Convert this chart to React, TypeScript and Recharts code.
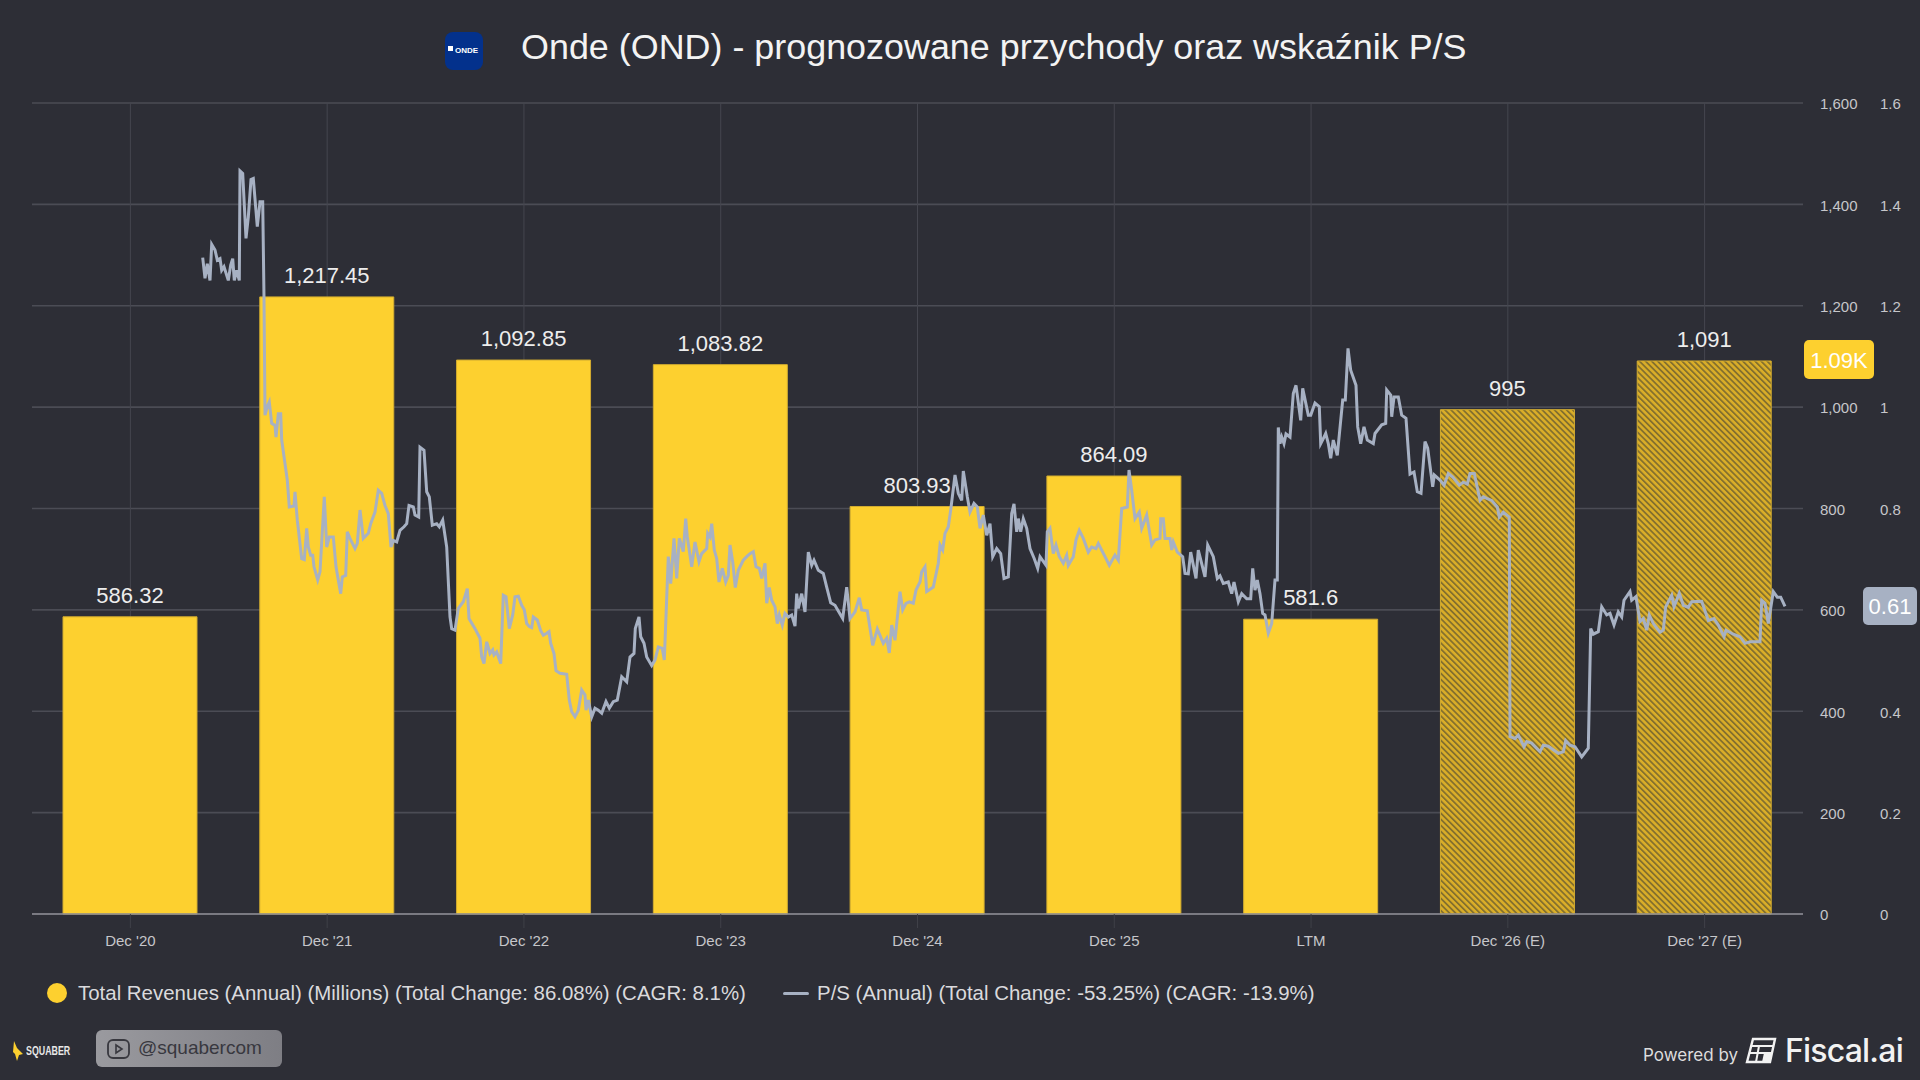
import { Bar, CartesianGrid, Cell, ComposedChart, LabelList, Line, XAxis, YAxis } from 'recharts';

const categories = ["Dec '20", "Dec '21", "Dec '22", "Dec '23", "Dec '24", "Dec '25", 'LTM', "Dec '26 (E)", "Dec '27 (E)"];
const revenues = [586.32, 1217.45, 1092.85, 1083.82, 803.93, 864.09, 581.6, 995, 1091];
const estimated = [false, false, false, false, false, false, false, true, true];
const revenueTicks = [0, 200, 400, 600, 800, 1000, 1200, 1400, 1600];
const psTicks = [0, 0.2, 0.4, 0.6, 0.8, 1, 1.2, 1.4, 1.6];

// P/S line: position along the time axis and ratio
const psDays = [
  170.7, 173, 175.3, 178, 179.7, 183, 185.3, 188, 189.7, 192, 196.3, 198.7, 200.7, 202.3, 204.7, 207.3, 208, 210.7, 214, 216.3,
  219, 221.3, 225.3, 228, 230.7, 232, 233, 235.3, 237.3, 239.7, 243, 244, 246.3, 248.7, 249.7, 255.3, 257.3, 262, 263, 265.3,
  269.7, 272.3, 274.7, 276.3, 278.7, 280.7, 282, 285.7, 288, 292.3, 294.7, 297.3, 301.3, 304, 308.7, 310.3, 313.7, 315.3, 318, 323,
  325.3, 328, 331.3, 336.3, 338.7, 343, 346.3, 349.7, 353, 356.3, 359, 361.3, 364.7, 368, 372, 374.7, 377, 381.3, 383, 386.7,
  388, 392, 394.7, 397.3, 400.3, 404.7, 407.3, 410.7, 414.7, 418, 419.7, 423, 426.3, 431.3, 435.3, 437, 443,
  448, 449.7, 452, 454.7, 458, 460.7, 462, 464.7, 468.7, 471.3, 474, 477.3, 480.7, 483, 486.3, 489.7, 492.3, 494.7, 497.3, 499.7,
  501.3, 505.3, 508.7, 511.3, 514.7, 517, 518.7, 522, 524, 528, 534.7, 537.3, 539.7, 543, 546.3, 549.7, 553, 554, 556.3, 559.7,
  563, 566.3, 569.7, 574, 577.3, 581.3, 585.3, 589.7, 594.7, 598, 602, 603.3, 607, 608.7, 612, 614.7, 619.7, 623, 626.3, 630.3,
  632.3, 636.3, 638.7, 642, 644.7, 647.3, 651.3, 653.7, 655.3, 659.7, 663, 667, 669.7, 674.7, 675.7, 678, 679.7, 682.3, 684.7, 687,
  690.3, 693.7, 696.3, 698, 700.7, 703.3, 706.3, 711.3, 714.7, 718, 721.3, 724, 727.3, 729.7, 733, 734.7, 737.3, 739.7, 743, 745.3,
  747.3, 750.3, 753, 756.3, 759.7, 763, 764.7,
  766.3, 769.7, 773, 776.3, 779.7, 782, 786.3, 791.3, 794.7, 798.7, 803, 806.3, 810.7, 814.7, 818, 823, 827.3, 829.7, 835.3, 840.7,
  845.3, 851.3, 854.7, 857.3, 859.7, 863, 868, 870.7, 874, 877.3, 881.3, 884, 888, 889.7, 893, 894.7, 901.3, 906.3, 908, 910.7,
  913, 916.3, 918.7, 923, 926.3, 929.7, 931.3, 935.3, 938, 942, 945.3, 948, 951.3, 954.7, 958, 960.7, 964.7, 968.7, 972, 976.3,
  979.7, 982, 984.7, 986.3, 988.7, 991.3, 994.7, 998, 1002.3, 1005.7, 1008, 1014, 1015.3, 1018, 1021.3, 1024, 1027.3, 1031.3, 1034.7, 1036.3,
  1041.3, 1044, 1047.3, 1051.3, 1056.3, 1059.7, 1064, 1066.3, 1073, 1077.3,
  1083, 1086.3, 1089.7, 1095.3, 1097, 1099.7, 1103, 1107.3, 1109.7, 1114.7, 1119.7, 1123, 1128, 1128.7, 1131.3, 1133, 1138, 1139.7, 1141.3, 1145.3,
  1150.7, 1153, 1156.3, 1158.7, 1164, 1166.3, 1173, 1175.7, 1181.3, 1185.3, 1188, 1191.3, 1196.3, 1199.7, 1202, 1206.3, 1209.7, 1214.7, 1218.7, 1220.7,
  1223, 1225.3, 1228, 1230.7, 1233, 1236.3, 1239.7, 1243, 1245.3,
  1246.3, 1248, 1249.7, 1252, 1254, 1258, 1261.3, 1264, 1268.7, 1270.7, 1276.3, 1278.7, 1283, 1287.3, 1288.7, 1291.3, 1293.7, 1296.3, 1298.7, 1301.3,
  1305.3, 1310.7, 1313.3, 1316, 1318.7, 1324, 1325.7, 1328.7, 1332, 1335.3, 1341.3, 1343, 1349.7, 1353.7, 1354.7, 1358.7, 1359.7, 1362, 1366.3, 1369.7,
  1374, 1378, 1382, 1385.3, 1389, 1393, 1395.7, 1400.7, 1402.3, 1408, 1412, 1416.3, 1420.7, 1427.3, 1431.3, 1435.3, 1438, 1442.3, 1448, 1451.3,
  1454.7, 1459.7, 1465.3, 1467.3, 1471.3, 1477.3, 1478, 1483, 1486.3, 1492, 1494.7, 1499.7, 1508, 1511.3, 1516.3, 1526.3, 1531.3, 1533.7, 1538, 1543,
  1549.7, 1556.3, 1558.7, 1561.3, 1566.3, 1569.7, 1574.7, 1578, 1582, 1586.3, 1589.7, 1592, 1598, 1599.7, 1604, 1608, 1611.3, 1614.7, 1617.3, 1621.3,
  1628, 1631.3, 1633.7, 1639.7, 1642, 1647.3, 1651.3, 1656.3, 1659.7, 1669.7, 1676.3, 1682, 1686.3, 1692, 1694, 1701.3, 1708, 1713, 1718, 1728,
  1729.7, 1733, 1736.3, 1741.3, 1745.3, 1748.7, 1753,
];
const psValues = [
  1.295, 1.254, 1.283, 1.25, 1.321, 1.31, 1.29, 1.293, 1.27, 1.277, 1.25, 1.28, 1.293, 1.25, 1.27, 1.25, 1.466, 1.461, 1.333, 1.375,
  1.449, 1.451, 1.356, 1.405, 1.405, 1.217, 0.984, 1.001, 1.01, 0.968, 0.964, 0.941, 0.987, 0.987, 0.935, 0.856, 0.803, 0.805, 0.833, 0.777,
  0.701, 0.699, 0.761, 0.724, 0.708, 0.708, 0.685, 0.659, 0.675, 0.823, 0.724, 0.744, 0.744, 0.685, 0.632, 0.665, 0.668, 0.754, 0.741, 0.721,
  0.731, 0.797, 0.741, 0.751, 0.77, 0.793, 0.836, 0.83, 0.806, 0.79, 0.724, 0.737, 0.734, 0.757, 0.764, 0.77, 0.806, 0.803, 0.787, 0.783,
  0.921, 0.915, 0.833, 0.823, 0.767, 0.77, 0.764, 0.777, 0.724, 0.586, 0.563, 0.56, 0.603, 0.616, 0.642, 0.583, 0.563,
  0.544, 0.507, 0.494, 0.537, 0.514, 0.521, 0.511, 0.517, 0.494, 0.629, 0.626, 0.563, 0.59, 0.626, 0.627, 0.609, 0.6, 0.573, 0.567, 0.565,
  0.586, 0.58, 0.559, 0.55, 0.554, 0.557, 0.534, 0.514, 0.48, 0.475, 0.473, 0.422, 0.399, 0.389, 0.402, 0.442, 0.432, 0.402, 0.422, 0.389,
  0.406, 0.402, 0.396, 0.419, 0.406, 0.419, 0.422, 0.468, 0.458, 0.507, 0.514, 0.563, 0.586, 0.547, 0.534, 0.507, 0.49, 0.501, 0.527, 0.524,
  0.501, 0.705, 0.652, 0.741, 0.662, 0.741, 0.715, 0.78, 0.744, 0.685, 0.734, 0.695, 0.711, 0.721, 0.751, 0.744, 0.77, 0.718, 0.701, 0.655,
  0.682, 0.655, 0.668, 0.728, 0.695, 0.644, 0.678, 0.698, 0.705, 0.711, 0.715, 0.685, 0.682, 0.662, 0.692, 0.613, 0.644, 0.619, 0.606, 0.573,
  0.59, 0.57, 0.593, 0.586, 0.59, 0.568, 0.632,
  0.603, 0.632, 0.596, 0.714, 0.688, 0.698, 0.678, 0.672, 0.645, 0.614, 0.609, 0.598, 0.583, 0.645, 0.583, 0.596, 0.624, 0.6, 0.598, 0.53,
  0.562, 0.534, 0.544, 0.515, 0.57, 0.54, 0.636, 0.6, 0.613, 0.616, 0.613, 0.639, 0.655, 0.675, 0.685, 0.636, 0.645, 0.692, 0.728, 0.718,
  0.751, 0.764, 0.797, 0.866, 0.83, 0.816, 0.874, 0.823, 0.793, 0.81, 0.803, 0.761, 0.787, 0.747, 0.77, 0.705, 0.721, 0.711, 0.662, 0.665,
  0.79, 0.809, 0.754, 0.78, 0.754, 0.78, 0.761, 0.721, 0.701, 0.682, 0.705, 0.688, 0.754, 0.761, 0.711, 0.728, 0.705, 0.692, 0.708, 0.688,
  0.705, 0.738, 0.757, 0.741, 0.714, 0.724, 0.721, 0.731, 0.705, 0.688,
  0.708, 0.698, 0.8, 0.803, 0.876, 0.836, 0.78, 0.793, 0.761, 0.787, 0.728, 0.738, 0.741, 0.78, 0.78, 0.741, 0.741, 0.718, 0.734, 0.714,
  0.705, 0.672, 0.671, 0.714, 0.662, 0.718, 0.665, 0.728, 0.705, 0.662, 0.667, 0.652, 0.655, 0.632, 0.655, 0.616, 0.632, 0.622, 0.622, 0.682,
  0.639, 0.659, 0.632, 0.593, 0.59, 0.554, 0.573, 0.659, 0.659,
  0.96, 0.928, 0.941, 0.928, 0.947, 0.941, 1.027, 1.043, 0.974, 1.037, 0.984, 0.984, 1.008, 1.001, 0.928, 0.938, 0.948, 0.928, 0.899, 0.935,
  0.905, 1.014, 1.014, 1.116, 1.073, 1.043, 0.961, 0.928, 0.961, 0.935, 0.928, 0.948, 0.965, 0.968, 1.034, 1.024, 0.981, 1.02, 1.02, 0.984,
  0.978, 0.868, 0.872, 0.833, 0.83, 0.932, 0.919, 0.843, 0.866, 0.856, 0.846, 0.869, 0.862, 0.846, 0.852, 0.848, 0.869, 0.869, 0.816, 0.823,
  0.82, 0.816, 0.803, 0.783, 0.793, 0.783, 0.35, 0.346, 0.353, 0.33, 0.34, 0.337, 0.32, 0.333, 0.331, 0.317, 0.32, 0.342, 0.333, 0.33,
  0.31, 0.327, 0.563, 0.552, 0.557, 0.606, 0.59, 0.593, 0.57, 0.596, 0.586, 0.619, 0.636, 0.619, 0.626, 0.577, 0.583, 0.56, 0.59, 0.573,
  0.556, 0.56, 0.606, 0.629, 0.606, 0.633, 0.609, 0.605, 0.616, 0.617, 0.579, 0.583, 0.57, 0.547, 0.56, 0.552, 0.547, 0.534, 0.537, 0.537,
  0.619, 0.613, 0.573, 0.636, 0.625, 0.625, 0.607,
];

const revenueLegend = 'Total Revenues (Annual) (Millions) (Total Change: 86.08%) (CAGR: 8.1%)';
const psLegend = 'P/S (Annual) (Total Change: -53.25%) (CAGR: -13.9%)';

const barData = categories.map((name, i) => ({ name, revenue: revenues[i], estimated: estimated[i] }));
const psData = psDays.map((day, i) => ({ day, ps: psValues[i] }));

const BG = '#2D2E36';
const YELLOW = '#FDD02F';
const SLATE = '#A7B1C3';
const SANS = '"Liberation Sans", Arial, sans-serif';

const abs = (left: number, top: number, extra: any = {}) => ({ position: 'absolute' as const, left, top, whiteSpace: 'nowrap' as const, ...extra });

export default function App() {
  return (
    <div style={{ position: 'absolute', left: 0, top: 0, width: 1920, height: 1080, background: BG, fontFamily: SANS, overflow: 'hidden' }}>
      <ComposedChart
        width={1920}
        height={1080}
        data={barData}
        margin={{ top: 103, right: 0, bottom: 126, left: 32 }}
        style={{ position: 'absolute', left: 0, top: 0 }}
      >
        <defs>
          <pattern id="hatch" width="4.3" height="4.3" patternUnits="userSpaceOnUse" patternTransform="rotate(-45)">
            <rect width="4.3" height="4.3" fill="#DAAE28" />
            <rect width="1.8" height="4.3" fill="#84702E" />
          </pattern>
        </defs>
        <CartesianGrid xAxisId="cat" yAxisId="amount" syncWithTicks vertical={false} stroke="#4B4C55" strokeWidth={1.6} />
        <CartesianGrid xAxisId="cat" yAxisId="amount" syncWithTicks horizontal={false} stroke="#45464F" strokeWidth={1} />
        <XAxis
          xAxisId="cat"
          dataKey="name"
          height={40}
          interval={0}
          axisLine={{ stroke: '#8C8D94', strokeWidth: 1.5 }}
          tickLine={{ stroke: '#3F4048' }}
          tickSize={14}
          tickMargin={7}
          tick={{ fill: '#C6C6CA', fontSize: 15, fontFamily: SANS }}
        />
        <XAxis xAxisId="time" type="number" dataKey="day" domain={[0, 1771]} hide />
        <YAxis
          yAxisId="amount"
          orientation="right"
          width={60}
          domain={[0, 1600]}
          ticks={revenueTicks}
          interval={0}
          axisLine={false}
          tickLine={false}
          tickSize={0}
          tickMargin={17}
          tickFormatter={(v: number) => v.toLocaleString('en-US')}
          tick={{ fill: '#C6C6CA', fontSize: 15, fontFamily: SANS, textAnchor: 'start', dy: 1 }}
        />
        <YAxis
          yAxisId="ps"
          orientation="right"
          width={57}
          domain={[0, 1.6]}
          ticks={psTicks}
          interval={0}
          axisLine={false}
          tickLine={false}
          tickSize={0}
          tickMargin={17}
          tick={{ fill: '#C6C6CA', fontSize: 15, fontFamily: SANS, textAnchor: 'start', dy: 1 }}
        />
        <Bar xAxisId="cat" yAxisId="amount" dataKey="revenue" barSize={134} stroke="#D2AC30" strokeWidth={1} isAnimationActive={false}>
          {barData.map((d) => (
            <Cell key={d.name} fill={d.estimated ? 'url(#hatch)' : YELLOW} />
          ))}
          <LabelList
            dataKey="revenue"
            position="top"
            offset={14}
            fill="#EDEDED"
            fontSize={22}
            fontFamily={SANS}
            formatter={(v: number) => v.toLocaleString('en-US', { maximumFractionDigits: 2 })}
          />
        </Bar>
        <Line
          xAxisId="time"
          yAxisId="ps"
          data={psData}
          dataKey="ps"
          type="linear"
          stroke={SLATE}
          strokeWidth={3}
          dot={false}
          activeDot={false}
          isAnimationActive={false}
        />
      </ComposedChart>

      {/* title */}
      <div style={abs(445, 32, { width: 38, height: 38, borderRadius: 8, background: '#03318C' })} />
      <div style={abs(448, 46, { width: 5, height: 5, background: '#fff' })} />
      <div style={abs(455, 32, { color: '#fff', fontSize: 8, fontWeight: 700, lineHeight: '37px' })}>ONDE</div>
      <div style={abs(521, 24, { color: '#F3F3F3', fontSize: 35.9, lineHeight: '46px' })}>Onde (OND) - prognozowane przychody oraz wskaźnik P/S</div>

      {/* last value badges */}
      <div style={abs(1804, 340, { width: 70, height: 39, borderRadius: 5, background: YELLOW, color: '#fff', fontSize: 22, lineHeight: '41px', textAlign: 'center' })}>1.09K</div>
      <div style={abs(1863, 587, { width: 54, height: 38, borderRadius: 5, background: SLATE, color: '#fff', fontSize: 22, lineHeight: '40px', textAlign: 'center' })}>0.61</div>

      {/* legend */}
      <div style={abs(47, 983, { width: 20, height: 20, borderRadius: 10, background: YELLOW })} />
      <div style={abs(78, 980, { color: '#DADADD', fontSize: 20.45, lineHeight: '26px' })}>{revenueLegend}</div>
      <div style={abs(783, 992, { width: 26, height: 3, borderRadius: 2, background: SLATE })} />
      <div style={abs(817, 980, { color: '#DADADD', fontSize: 20.45, lineHeight: '26px' })}>{psLegend}</div>

      {/* footer left */}
      <svg style={abs(12, 1040)} width="14" height="22" viewBox="0 0 14 22">
        <path d="M2 1 L5 8 L11 14 L7 15 L5 21 L3 14 L1 12 Z" fill={YELLOW} />
      </svg>
      <div style={abs(26, 1043, { color: '#E8E8E8', fontSize: 13, fontWeight: 700, lineHeight: '16px', transform: 'scaleX(0.68)', transformOrigin: 'left' })}>SQUABER</div>
      <div style={abs(96, 1030, { width: 186, height: 37, borderRadius: 6, background: 'linear-gradient(90deg,#9A9A9F,#7E7E84)', color: '#38383F', fontSize: 19, lineHeight: '36px', paddingLeft: 42, boxSizing: 'border-box' })}>@squabercom</div>
      <svg style={abs(107, 1039)} width="23" height="20" viewBox="0 0 23 20">
        <rect x="1" y="1" width="21" height="18" rx="5" fill="none" stroke="#38383F" strokeWidth="1.8" />
        <path d="M9 6 L15 10 L9 14 Z" fill="none" stroke="#38383F" strokeWidth="1.6" />
      </svg>

      {/* footer right */}
      <div style={abs(1643, 1044, { color: '#DDDDDD', fontSize: 17, lineHeight: '22px', fontFamily: 'Inter, sans-serif' })}>Powered by</div>
      <svg style={abs(1745, 1037)} width="32" height="27" viewBox="0 0 32 27">
        <path d="M8 2 H30 L25 25 H2 Z" fill="none" stroke="#F2F2F2" strokeWidth="2.4" />
        <path d="M6 9 H28 M5 16 H26 M14 9 L11 25 M21 16 L19 25" stroke="#F2F2F2" strokeWidth="2" fill="none" />
        <path d="M19 16 H27 L25 25 H17 Z" fill="#F2F2F2" />
      </svg>
      <div style={abs(1785, 1030, { color: '#F2F2F2', fontSize: 32, lineHeight: '42px', fontFamily: 'Inter, sans-serif', fontWeight: 500, letterSpacing: -0.8 })}>Fiscal.ai</div>
    </div>
  );
}
